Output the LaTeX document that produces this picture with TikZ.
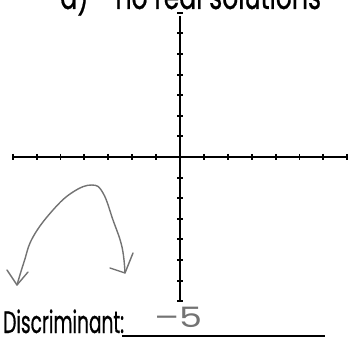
\documentclass[tikz,border=0pt]{standalone}
\usepackage{fontspec}
\setmainfont{Poppins}
\newfontfamily\labelfont[FakeStretch=0.6, FakeBold=0.6]{Poppins}
\newfontfamily\headfont[FakeStretch=0.7, FakeBold=0.6]{Poppins}
\newfontfamily\answerfont[FakeStretch=1.3]{Poppins}
\tikzset{%
    axisline/.style={line width=1.5pt, black},
    axtick/.style={line width=1.3pt, black},
    sketch/.style={line width=1pt, black!55, line cap=round, line join=round},
    worksheet/.style={font=\labelfont\fontsize{22}{26}\selectfont, inner sep=0pt},
    heading/.style={font=\headfont\fontsize{25.5}{30}\selectfont, inner sep=0pt},
    answer/.style={font=\answerfont\fontsize{20}{24}\selectfont, inner sep=0pt, text=black!55},
}
\begin{document}
\begin{tikzpicture}[x=0.025cm, y=-0.025cm]
\useasboundingbox (0,0) rectangle (350,341);
\clip (0,0) rectangle (350,341);
% heading, cut off by the top edge
\node[heading, anchor=base west] (title) at (60,9) {a)\hspace{0.75em}no real solutions};
% axes
\coordinate (origin) at (180,157);
\coordinate (xmin) at (12,157);
\coordinate (xmax) at (347,157);
\coordinate (ymin) at (180,16);
\coordinate (ymax) at (180,302);
\draw[axisline] (xmin) -- (xmax);
\draw[axisline] (ymin) -- (ymax);
\foreach \i in {-7,...,7}
    \draw[axtick] (180+\i*23.9,154) -- (180+\i*23.9,160);
\foreach \j in {-7,...,7}
    \draw[axtick] (177,157+\j*20.6) -- (183,157+\j*20.6);
% sketched parabola
\draw[sketch] plot[smooth, tension=0.7] coordinates {
    (17,285) (24,262) (33,237) (53,210) (73,192) (92,185)
    (103,193) (113,220) (122,247) (125,273)};
\draw[sketch] (7,270) -- (17,285) -- (28,272);
\draw[sketch] (110,268) -- (125,273) -- (133,253);
% answer line
\node[worksheet, anchor=base west] (disc) at (3,333) {Discriminant:};
\draw[line width=1.2pt] (122,336) -- (325,336);
\node[answer, anchor=base west] (value) at (154,328) {–5};
\end{tikzpicture}
\end{document}
